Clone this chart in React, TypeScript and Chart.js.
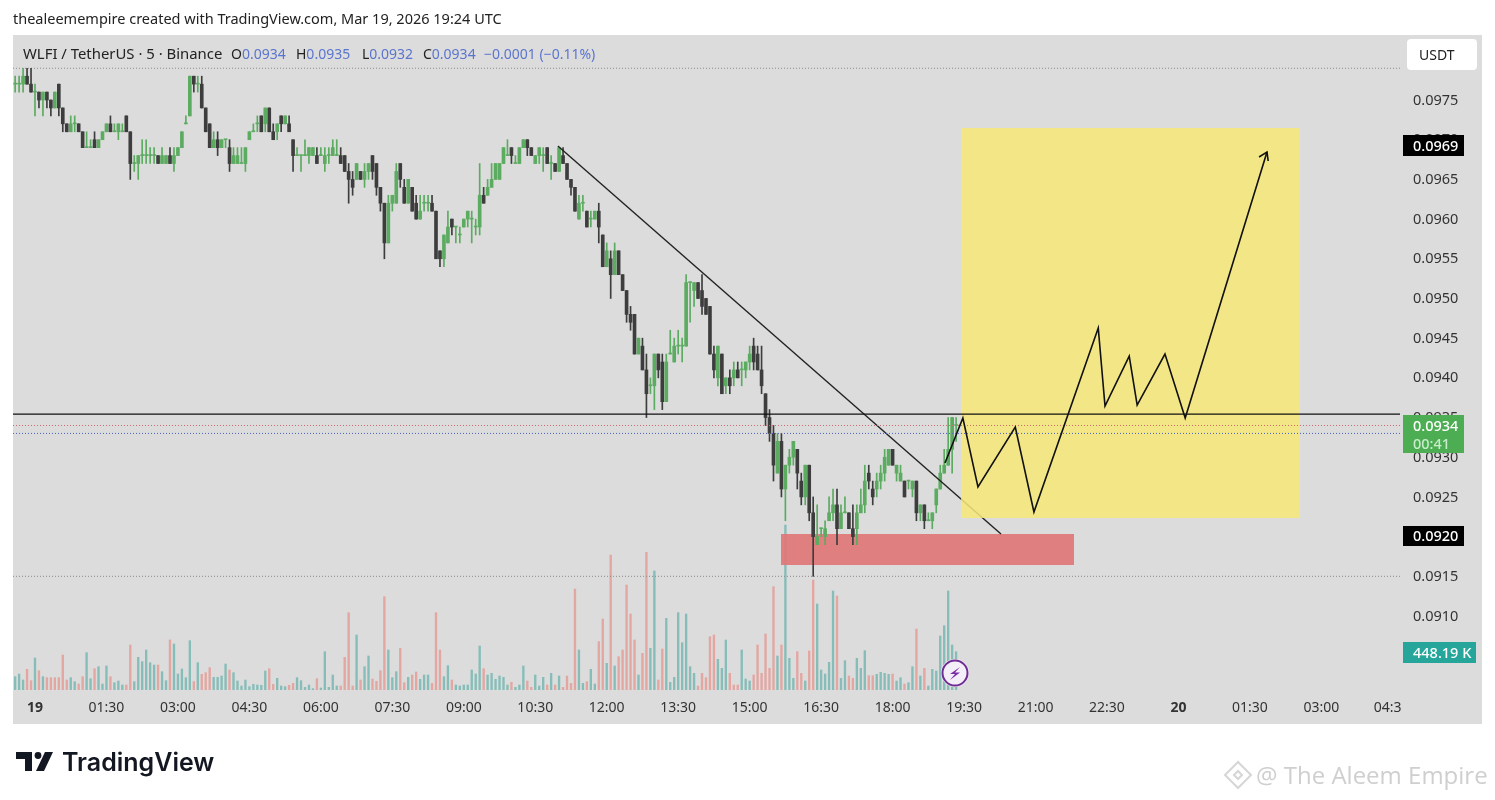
import React, { useEffect, useRef } from "react";
import { Chart, registerables } from "chart.js";

Chart.register(...registerables);

// Prices in exchange ticks of 0.0001 (978 = 0.0978).
const TICK = 0.0001;
const FIRST_BAR = -5; // the first candle is five 5-minute bars before 00:00

const opens = [
  977,977,977,978,977,976,976,975,976,975,
  974,977,974,972,971,972,972,971,969,969,
  970,969,970,971,972,971,971,971,973,971,
  967,967,968,968,968,968,968,967,967,968,
  967,968,969,972,973,978,977,977,974,972,
  969,970,969,970,969,967,967,967,967,970,
  971,972,973,972,974,971,971,973,972,972,
  970,968,968,968,968,968,968,968,967,968,
  968,968,968,968,966,965,965,966,965,966,
  968,967,964,962,957,962,962,967,964,962,
  964,962,960,962,962,962,961,956,955,957,
  960,959,958,959,960,960,959,959,963,963,
  964,965,965,967,968,969,967,967,969,970,
  969,967,968,968,969,967,967,966,968,967,
  965,964,960,962,961,960,960,961,958,954,
  955,953,956,953,951,948,948,943,944,941,
  939,939,943,942,937,943,942,944,944,944,
  952,951,952,951,950,949,943,940,943,939,
  940,940,941,941,941,942,944,943,941,938,
  935,933,928,932,926,929,930,931,927,925,
  929,923,919,921,920,922,923,924,921,923,
  923,921,921,923,924,928,926,926,927,928,
  929,931,928,927,927,927,926,927,923,924,
  922,922,924,926,928,929,931,934,
];
const highs = [
  978,978,979,979,979,977,976,976,976,975,
  976,977,974,972,973,973,972,971,971,970,
  971,970,971,972,973,972,972,972,973,971,
  968,968,970,970,969,969,968,969,968,969,
  969,969,971,973,978,978,978,978,974,972,
  971,971,970,970,970,969,969,969,969,971,
  972,973,973,974,974,972,972,973,973,973,
  970,969,968,970,969,969,969,969,969,969,
  970,970,969,968,967,966,967,966,967,967,
  968,967,964,962,963,963,967,967,965,965,
  964,963,963,963,963,963,961,956,958,961,
  960,959,959,960,961,961,960,967,964,965,
  967,967,967,969,970,969,968,969,970,970,
  969,968,969,969,969,968,967,969,969,967,
  965,964,963,963,961,961,961,962,958,957,
  956,957,956,953,951,949,948,945,945,943,
  940,943,943,943,943,946,945,946,945,953,
  952,952,952,953,950,949,944,944,943,940,
  941,942,942,942,942,944,945,944,944,938,
  936,934,933,933,929,931,932,931,928,929,
  929,925,924,921,922,925,926,926,924,925,
  923,924,924,926,929,929,927,928,929,931,
  931,931,929,929,927,927,927,927,924,924,
  923,923,926,929,931,935,935,935,
];
const lows = [
  976,976,976,977,976,973,974,973,974,973,
  974,973,971,971,971,971,971,969,969,969,
  969,969,970,971,971,971,970,971,971,965,
  966,965,967,967,967,967,967,967,967,967,
  966,968,969,972,973,976,976,974,971,969,
  969,968,969,969,966,967,967,967,966,970,
  971,971,971,971,971,970,970,971,972,971,
  966,968,966,968,967,968,967,968,966,967,
  968,968,967,966,962,963,965,965,964,965,
  965,963,961,955,957,961,962,964,962,962,
  961,960,960,961,961,961,955,954,954,957,
  958,957,957,959,959,957,958,958,962,963,
  964,965,965,967,968,967,967,967,969,968,
  968,967,967,966,967,965,966,966,967,965,
  963,961,960,961,959,959,960,957,954,954,
  950,953,953,951,947,946,943,943,941,935,
  938,936,940,936,937,943,942,943,942,944,
  947,949,950,948,948,943,940,939,938,938,
  938,939,940,939,940,941,941,941,938,934,
  932,927,928,925,922,928,929,926,924,924,
  922,915,919,920,919,922,922,919,921,923,
  921,919,919,923,923,926,924,925,926,927,
  929,929,927,927,925,926,925,922,922,921,
  922,921,923,926,928,929,928,932,
];
const closes = [
  977,977,978,977,976,976,975,976,975,974,
  976,974,972,971,972,972,971,969,969,969,
  969,970,971,972,971,971,972,971,971,967,
  967,968,968,968,968,968,967,968,968,967,
  968,969,971,972,978,977,977,974,971,969,
  970,969,970,970,967,968,968,967,969,971,
  971,972,971,974,971,970,972,972,973,971,
  968,968,968,968,969,969,967,968,968,968,
  969,968,967,966,965,964,967,965,966,967,
  966,964,962,957,962,963,966,965,962,965,
  961,960,961,962,962,961,955,955,958,959,
  959,959,958,960,961,960,959,963,962,964,
  965,967,967,969,968,968,967,969,970,969,
  968,968,969,968,967,967,966,969,967,965,
  964,961,962,962,959,960,961,959,954,956,
  953,956,953,951,948,947,943,945,941,938,
  939,943,941,937,942,943,944,944,944,952,
  952,952,950,949,948,943,941,944,938,940,
  939,941,940,941,942,943,942,941,939,935,
  933,929,932,926,929,930,932,928,925,929,
  923,920,920,921,921,923,924,921,923,923,
  921,920,923,924,927,927,925,927,928,930,
  931,929,929,928,925,927,927,923,924,922,
  922,923,926,928,929,931,935,934,
];
// Volume in thousands
const volumes = [
  160,192,120,248,112,384,232,160,148,148,
  148,148,420,120,148,100,72,160,448,136,
  256,280,72,288,160,88,108,60,60,540,
  100,392,340,480,328,300,300,220,112,600,
  552,192,252,148,592,100,328,188,208,268,
  152,152,168,312,240,208,108,48,120,40,
  68,60,56,228,256,68,140,48,40,56,
  80,148,112,32,60,16,136,24,460,32,
  180,48,48,392,928,48,660,120,280,408,
  132,104,232,1120,480,148,220,500,88,152,
  180,216,128,180,180,80,928,480,160,292,
  120,60,48,60,60,240,192,528,256,180,
  200,128,
  168,152,60,92,32,60,288,108,32,180,
  48,152,60,200,60,168,32,168,80,1212,
  480,80,100,248,72,580,852,320,1620,288,
  400,480,1260,912,600,180,440,1652,500,1428,
  120,492,860,92,152,928,568,912,280,200,
  48,200,148,640,660,368,260,600,200,60,
  60,480,132,108,180,540,200,672,260,1240,
  408,540,1980,380,140,460,200,108,468,1320,
  1032,240,192,332,1188,1128,140,352,168,140,
  380,260,472,172,172,188,212,200,188,192,
  108,148,72,88,280,732,168,260,48,248,
  228,648,772,1188,540,460,
];
// 1 = buy-side (teal) bar, 0 = sell-side (salmon) bar
const volumeUp = [
  1,1,1,0,0,1,0,1,0,0,
  0,0,0,0,1,1,0,0,1,1,
  0,1,1,1,0,1,1,1,0,0,
  1,1,1,1,1,1,0,1,1,0,
  1,1,1,1,1,0,1,0,0,0,
  1,1,1,1,0,1,1,1,1,1,
  1,1,1,1,0,0,1,1,1,0,
  0,1,1,1,1,1,0,1,1,1,
  1,1,0,0,0,0,1,0,1,1,
  0,0,0,0,1,1,1,0,0,1,
  0,0,1,1,1,0,0,0,1,1,
  0,1,1,1,1,1,1,1,0,1,
  1,1,
  1,1,1,0,1,1,1,0,0,1,
  1,1,0,1,0,1,0,0,0,0,
  1,1,0,1,1,0,0,1,0,1,
  0,0,0,0,0,1,0,0,1,1,
  0,0,1,1,1,1,1,1,1,1,
  0,0,0,0,0,1,1,1,0,0,
  0,1,1,1,0,0,0,0,0,0,
  1,0,1,1,1,0,0,1,0,0,
  1,1,1,1,1,0,1,1,0,0,
  1,1,1,0,0,1,1,1,1,0,
  1,1,0,1,1,0,1,0,1,1,
  1,1,1,1,1,1,
];

const priceTicks = [0.0975,0.097,0.0965,0.096,0.0955,0.095,0.0945,0.094,0.0935,0.093,0.0925,0.092,0.0915,0.091];
const timePositions = [0,18,36,54,72,90,108,126,144,162,180,198,216,234,252,270,288,306,324,340.7];
const timeLabels = ["19","01:30","03:00","04:30","06:00","07:30","09:00","10:30","12:00","13:30","15:00","16:30","18:00","19:30","21:00","22:30","20","01:30","03:00","04:3"];

// Drawings, x in 5-minute bars from 00:00
const trendX = [131.7, 243.3];
const trendY = [0.096921, 0.092033];
const forecastX = [229.2,233.7,237.5,246.9,251.6,267.8,269.5,275.6,277.6,284.6,289.7,310.3];
const forecastY = [0.092927,0.093494,0.092625,0.093381,0.09231,0.094628,0.093645,0.094275,0.093658,0.0943,0.093494,0.096845];
const arrowX = [308.3,310.3,310.6];
const arrowY = [0.096782,0.096845,0.096732];
const targetBoxX = [233.25, 318.6];
const targetBoxY = [0.097147, 0.092234];
const demandBoxX = [187.9, 261.7];
const demandBoxY = [0.092033, 0.091642];
const xRange = [-5.54, 343.8];
const yRange = [0.090068, 0.098319];
const highLine = 0.0979;
const lowLine = 0.0915;
const keyLine = 0.093544;
const openLine = 0.0934;
const lastLine = 0.0933;

const FONT = '"Noto Sans", sans-serif';
const GREEN = "#5bab60";
const DARK = "#3d3d3d";

const toSeries = (xs: number[], ys: number[]) => xs.map((x, i) => ({ x, y: ys[i] }));
const hLine = (y: number) => toSeries(xRange, [y, y]);

const decorations = {
  id: "decorations",
  beforeDraw(chart: any) {
    const c = chart.ctx;
    c.save();
    c.fillStyle = "#ffffff";
    c.fillRect(0, 0, 1495, 800);
    c.fillStyle = "#dcdcdc";
    c.fillRect(13, 35, 1469, 689);
    c.restore();
  },
  afterDraw(chart: any) {
    const c = chart.ctx;
    c.save();
    c.textBaseline = "alphabetic";
    c.textAlign = "left";

    // header
    c.fillStyle = "#222";
    c.font = `14.5px ${FONT}`;
    c.fillText("thealeemempire created with TradingView.com, Mar 19, 2026 19:24 UTC", 13, 24);

    // legend
    c.fillStyle = "#222";
    c.font = `14.9px ${FONT}`;
    c.fillText("WLFI / TetherUS · 5 · Binance", 23, 59);
    c.font = `14px ${FONT}`;
    const blue = "#5a75cf";
    const ohlc: [string, string, number][] = [["O", "0.0934", 231], ["H", "0.0935", 296], ["L", "0.0932", 362], ["C", "0.0934", 423]];
    for (const [k, v, x] of ohlc) {
      c.fillStyle = "#222";
      c.fillText(k, x, 59);
      const w = c.measureText(k).width;
      c.fillStyle = blue;
      c.fillText(v, x + w, 59);
    }
    c.fillStyle = blue;
    c.fillText("−0.0001 (−0.11%)", 484, 59);

    // currency button
    c.fillStyle = "#ffffff";
    c.beginPath();
    c.roundRect(1407, 39, 70, 31, 4);
    c.fill();
    c.fillStyle = "#222";
    c.fillText("USDT", 1419, 60);

    // price badges
    const badge = (x: number, y: number, w: number, h: number, bg: string) => {
      c.fillStyle = bg;
      c.fillRect(x, y, w, h);
    };
    c.font = `500 14.5px ${FONT}`;
    badge(1403, 135, 61, 21, "#000000");
    c.fillStyle = "#fff";
    c.fillText("0.0969", 1413, 151);
    badge(1403, 526, 61, 20, "#000000");
    c.fillStyle = "#fff";
    c.fillText("0.0920", 1413, 541);
    badge(1403, 415, 61, 38, "#4cad52");
    c.fillStyle = "#fff";
    c.fillText("0.0934", 1413, 431);
    c.fillStyle = "#c9eccb";
    c.fillText("00:41", 1413, 449);
    badge(1403, 642, 73, 21, "#26a69a");
    c.fillStyle = "#fff";
    c.fillText("448.19 K", 1413, 658);

    // lightning badge
    c.beginPath();
    c.arc(955, 673, 14, 0, Math.PI * 2);
    c.fillStyle = "#f4eef8";
    c.fill();
    c.beginPath();
    c.arc(955, 673, 12.5, 0, Math.PI * 2);
    c.strokeStyle = "#6f2c91";
    c.lineWidth = 2;
    c.stroke();
    c.fillStyle = "#7b2fa5";
    c.beginPath();
    c.moveTo(960, 667);
    c.lineTo(950, 674);
    c.lineTo(955, 674);
    c.lineTo(950, 680);
    c.lineTo(960, 672.5);
    c.lineTo(955, 672.5);
    c.closePath();
    c.fill();

    // TradingView logo
    c.fillStyle = "#131722";
    c.beginPath();
    c.moveTo(16, 752);
    c.lineTo(32, 752);
    c.lineTo(32, 771);
    c.lineTo(25, 771);
    c.lineTo(25, 759);
    c.lineTo(16, 759);
    c.closePath();
    c.fill();
    c.beginPath();
    c.arc(38, 755.5, 3.4, 0, Math.PI * 2);
    c.fill();
    c.beginPath();
    c.moveTo(45, 752);
    c.lineTo(53, 752);
    c.lineTo(44, 771);
    c.lineTo(36, 771);
    c.closePath();
    c.fill();
    c.font = `600 25px Inter, sans-serif`;
    c.fillText("TradingView", 62, 771);

    // watermark
    c.fillStyle = "#cfcfcf";
    c.font = `24px "Open Sans", sans-serif`;
    c.fillText("@ The Aleem Empire", 1256, 784);
    c.strokeStyle = "#d6d6d6";
    c.lineWidth = 2;
    c.beginPath();
    c.moveTo(1238, 762);
    c.lineTo(1251, 775);
    c.lineTo(1238, 788);
    c.lineTo(1225, 775);
    c.closePath();
    c.stroke();
    c.beginPath();
    c.moveTo(1238, 771);
    c.lineTo(1242, 775);
    c.lineTo(1238, 779);
    c.lineTo(1234, 775);
    c.closePath();
    c.stroke();
    c.restore();
  },
};

export default function App() {
  const ref = useRef<HTMLCanvasElement | null>(null);
  useEffect(() => {
    if (!ref.current) return;
    const colour = opens.map((o, i) => (closes[i] < o ? DARK : GREEN));
    const thin = { pointRadius: 0, pointHoverRadius: 0, tension: 0, xAxisID: "x", yAxisID: "y" };
    const chart = new Chart(ref.current, {
      type: "bar",
      data: {
        datasets: [
          {
            type: "line", label: "Forecast", order: 1, data: toSeries(forecastX, forecastY),
            borderColor: "#111", borderWidth: 1.6, ...thin,
          },
          {
            type: "line", label: "Arrow", order: 1, data: toSeries(arrowX, arrowY),
            borderColor: "#111", borderWidth: 1.6, ...thin,
          },
          {
            type: "line", label: "Level", order: 3, data: hLine(keyLine),
            borderColor: "#111", borderWidth: 1.2, ...thin,
          },
          {
            type: "line", label: "Open", order: 4, data: hLine(openLine),
            borderColor: "#d06a6a", borderWidth: 1, borderDash: [1, 2], ...thin,
          },
          {
            type: "line", label: "Last", order: 4, data: hLine(lastLine),
            borderColor: "#4a64c8", borderWidth: 1, borderDash: [1, 2], ...thin,
          },
          {
            type: "line", label: "Target zone", order: 5, data: toSeries(targetBoxX, [targetBoxY[0], targetBoxY[0]]),
            borderWidth: 0, backgroundColor: "rgba(246,232,120,0.86)", fill: { value: targetBoxY[1] }, ...thin,
          },
          {
            type: "line", label: "Trend", order: 6, data: toSeries(trendX, trendY),
            borderColor: "#222", borderWidth: 1.4, ...thin,
          },
          {
            type: "bar", label: "Body", order: 7, grouped: false, barThickness: 3, minBarLength: 1,
            data: opens.map((o, i) => ({ x: FIRST_BAR + i, y: [o * TICK, closes[i] * TICK] })),
            backgroundColor: colour, borderWidth: 0, xAxisID: "x", yAxisID: "y",
          },
          {
            type: "bar", label: "Wick", order: 8, grouped: false, barThickness: 1,
            data: highs.map((h, i) => ({ x: FIRST_BAR + i, y: [lows[i] * TICK, h * TICK] })),
            backgroundColor: colour, borderWidth: 0, xAxisID: "x", yAxisID: "y",
          },
          {
            type: "line", label: "Demand zone", order: 9, data: toSeries(demandBoxX, [demandBoxY[0], demandBoxY[0]]),
            borderWidth: 0, backgroundColor: "rgba(224,118,118,0.92)", fill: { value: demandBoxY[1] }, ...thin,
          },
          {
            type: "line", label: "High", order: 10, data: hLine(highLine),
            borderColor: "#8a8a8a", borderWidth: 1, borderDash: [1, 2], ...thin,
          },
          {
            type: "line", label: "Low", order: 10, data: hLine(lowLine),
            borderColor: "#8a8a8a", borderWidth: 1, borderDash: [1, 2], ...thin,
          },
          {
            type: "bar", label: "Volume", order: 11, grouped: false, barThickness: 1.7,
            data: volumes.map((v, i) => ({ x: FIRST_BAR + i, y: v })),
            backgroundColor: volumeUp.map((u) => (u ? "#86bdb8" : "#e3a6a1")),
            borderWidth: 0, xAxisID: "x", yAxisID: "v",
          },
        ] as any,
      },
      options: {
        animation: false,
        responsive: false,
        layout: { padding: { left: 13, top: 35, right: 0, bottom: 0 } },
        plugins: { legend: { display: false }, tooltip: { enabled: false } },
        scales: {
          x: {
            type: "linear", min: xRange[0], max: xRange[1], offset: false,
            grid: { display: false, drawTicks: false }, border: { display: false },
            afterBuildTicks: (s: any) => { s.ticks = timePositions.map((value) => ({ value })); },
            afterFit: (s: any) => { s.height = 110; s.paddingLeft = 0; s.paddingRight = 0; },
            ticks: {
              autoSkip: false, maxRotation: 0, minRotation: 0, padding: 10, color: "#333",
              font: (ctx: any) => {
                const bold = ctx.tick && (timeLabels[ctx.index] === "19" || timeLabels[ctx.index] === "20");
                return { family: FONT, size: 14, weight: bold ? "bold" : "normal" };
              },
              callback: (_v: any, i: number) => timeLabels[i],
            },
          },
          y: {
            type: "linear", position: "right", min: yRange[0], max: yRange[1],
            grid: { display: false, drawTicks: false }, border: { display: false },
            afterBuildTicks: (s: any) => { s.ticks = priceTicks.map((value) => ({ value })); },
            afterFit: (s: any) => { s.width = 95; s.paddingTop = 0; s.paddingBottom = 0; },
            ticks: {
              autoSkip: false, padding: 13, labelOffset: 0.5, color: "#333", font: { family: FONT, size: 14.5 },
              callback: (v: any) => Number(v).toFixed(4),
            },
          },
          v: { type: "linear", display: false, min: 0, max: 7860 },
        },
      } as any,
      plugins: [decorations],
    } as any);
    return () => chart.destroy();
  }, []);
  return (
    <div style={{ position: "fixed", left: 0, top: 0, width: 1495, height: 800, background: "#fff" }}>
      <canvas ref={ref} width={1495} height={800} style={{ display: "block", width: 1495, height: 800 }} />
    </div>
  );
}
